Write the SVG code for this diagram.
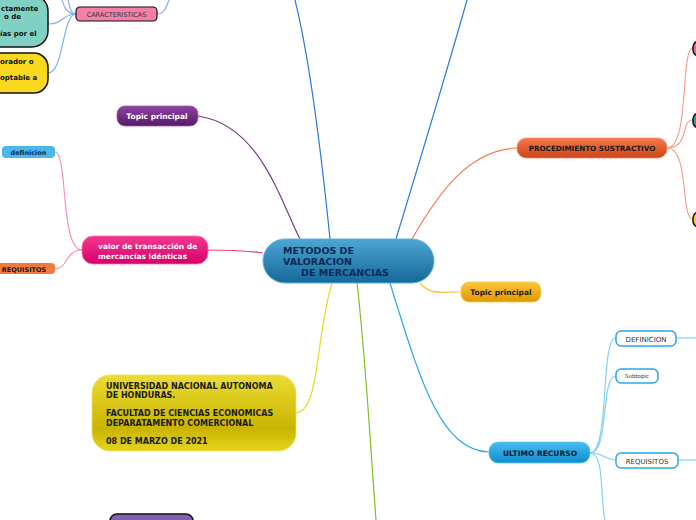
<svg xmlns="http://www.w3.org/2000/svg" width="696" height="520" viewBox="0 0 696 520">
<defs>
<linearGradient id="gCentral" x1="0" y1="0" x2="0" y2="1"><stop offset="0" stop-color="#4ea6d2"/><stop offset="1" stop-color="#14689a"/></linearGradient>
<linearGradient id="gPurple" x1="0" y1="0" x2="0" y2="1"><stop offset="0" stop-color="#8e44a0"/><stop offset="1" stop-color="#561a68"/></linearGradient>
<linearGradient id="gPink" x1="0" y1="0" x2="0" y2="1"><stop offset="0" stop-color="#f4388e"/><stop offset="1" stop-color="#d4006a"/></linearGradient>
<linearGradient id="gOrange" x1="0" y1="0" x2="0" y2="1"><stop offset="0" stop-color="#f47a4c"/><stop offset="1" stop-color="#cc4418"/></linearGradient>
<linearGradient id="gGold" x1="0" y1="0" x2="0" y2="1"><stop offset="0" stop-color="#fcc63c"/><stop offset="1" stop-color="#de9800"/></linearGradient>
<linearGradient id="gBlue" x1="0" y1="0" x2="0" y2="1"><stop offset="0" stop-color="#48bcf0"/><stop offset="1" stop-color="#0e8cce"/></linearGradient>
<linearGradient id="gYellow" x1="0" y1="0" x2="0" y2="1"><stop offset="0" stop-color="#ecdc34"/><stop offset="0.7" stop-color="#c8b400"/><stop offset="1" stop-color="#e4d420"/></linearGradient>
</defs>
<style>
.t{font-family:"DejaVu Sans",Verdana,sans-serif;font-weight:bold;}
.n{font-family:"DejaVu Sans",Verdana,sans-serif;}
.c{fill:none;stroke-width:1.2;}
</style>
<g id="connectors">
<path class="c" d="M330,239 C322,160 310,60 295,0" stroke="#2a7ae0" stroke-width="1.6"/>
<path class="c" d="M396,239 C420,160 450,60 467,0" stroke="#2a7ae0" stroke-width="1.6"/>
<path class="c" d="M300,239 C280,200 260,125 198,116" stroke="#7a3a8a"/>
<path class="c" d="M263,253 C240,250 225,250 208,250" stroke="#f03c80" stroke-width="1.5"/>
<path class="c" d="M412,239 C440,190 470,150 517,148" stroke="#f47a50"/>
<path class="c" d="M420,283 C430,295 440,292 461,292" stroke="#f8c43c"/>
<path class="c" d="M390,283 C420,380 440,450 489,452" stroke="#20aaea"/>
<path class="c" d="M332,283 C315,340 320,410 296,413" stroke="#e8d828"/>
<path class="c" d="M357,283 C365,350 370,440 376,520" stroke="#80c020" stroke-width="1.5"/>
<path class="c" d="M82,250 C60,250 68,152 55,152" stroke="#f890b8" stroke-width="1"/>
<path class="c" d="M82,250 C65,250 68,269 55,269" stroke="#f890b8" stroke-width="1"/>
<path class="c" d="M667,148 C690,148 680,48 693,48" stroke="#f8a088" stroke-width="1"/>
<path class="c" d="M667,148 C690,148 680,120 693,120" stroke="#f8a088" stroke-width="1"/>
<path class="c" d="M667,148 C690,148 680,219 693,219" stroke="#f8a088" stroke-width="1"/>
<path class="c" d="M590,453 C610,453 600,338 616,338" stroke="#80d0f4" stroke-width="1"/>
<path class="c" d="M590,453 C610,453 600,376 616,376" stroke="#80d0f4" stroke-width="1"/>
<path class="c" d="M590,453 C605,453 605,460 616,460" stroke="#80d0f4" stroke-width="1"/>
<path class="c" d="M590,453 C605,453 600,500 605,520" stroke="#80d0f4" stroke-width="1"/>
<path class="c" d="M676,338 L696,338" stroke="#80d0f4" stroke-width="1"/>
<path class="c" d="M678,460 L696,460" stroke="#80d0f4" stroke-width="1"/>
<path class="c" d="M76,14 C62,14 64,24 48,24" stroke="#80b0f0" stroke-width="1"/>
<path class="c" d="M76,14 C62,14 64,73 48,73" stroke="#80b0f0" stroke-width="1"/>
<path class="c" d="M76,14 C66,14 64,6 62,0" stroke="#80b0f0" stroke-width="1"/>
<path class="c" d="M76,14 C70,14 70,6 68,0" stroke="#80b0f0" stroke-width="1"/>
<path class="c" d="M157,14 C164,14 166,8 169,0" stroke="#80b0f0" stroke-width="1"/>
</g>
<g id="central">
<rect x="263" y="239" width="171" height="44" rx="22" fill="url(#gCentral)" stroke="#5ab0dc" stroke-width="1"/>
<text class="t" font-size="9.5" fill="#0d2a55"><tspan x="283" y="254">METODOS DE</tspan><tspan x="283" y="265">VALORACION</tspan><tspan x="301" y="276">DE MERCANCIAS</tspan></text>
</g>
<g id="topic-purple">
<rect x="117" y="106" width="81" height="20" rx="8" fill="url(#gPurple)" stroke="#9a58aa" stroke-width="0.8"/>
<text class="t" font-size="7.5" fill="#fff" x="157" y="119" text-anchor="middle">Topic principal</text>
</g>
<g id="valor">
<rect x="82" y="236" width="126" height="28" rx="11" fill="url(#gPink)" stroke="#f870a8" stroke-width="0.8"/>
<text class="t" font-size="7.5" fill="#fff"><tspan x="98" y="249">valor de transacción de</tspan><tspan x="98" y="259">mercancías idénticas</tspan></text>
</g>
<g id="definicion-left">
<rect x="2" y="146" width="53" height="12" rx="4" fill="#4ab8ea"/>
<text class="t" font-size="6.5" fill="#0d2a55" x="28.5" y="155" text-anchor="middle">definicion</text>
</g>
<g id="requisitos-left">
<rect x="-6" y="263" width="61" height="11" rx="4" fill="#f07a3c"/>
<text class="t" font-size="6.5" fill="#1a1a1a" x="24" y="271.5" text-anchor="middle">REQUISITOS</text>
</g>
<g id="caracteristicas">
<rect x="76" y="7" width="81" height="14" rx="4" fill="#f480aa" stroke="#111" stroke-width="1.2"/>
<text class="n" font-size="6.5" fill="#333" x="116.5" y="16.5" text-anchor="middle">CARACTERISTICAS</text>
</g>
<g id="teal-node">
<rect x="-30" y="-5" width="78" height="52" rx="16" fill="#80d0c4" stroke="#111" stroke-width="1.5"/>
<text class="t" font-size="7" fill="#111"><tspan x="1" y="11">ctamente</tspan><tspan x="4" y="19">o de</tspan><tspan x="0" y="36">ías por el</tspan></text>
</g>
<g id="yellow-node">
<rect x="-30" y="53" width="78" height="40" rx="14" fill="#fad81e" stroke="#111" stroke-width="1.5"/>
<text class="t" font-size="7" fill="#111"><tspan x="0" y="64">orador o</tspan><tspan x="0" y="80">optable a</tspan></text>
</g>
<g id="procedimiento">
<rect x="517" y="138" width="150" height="20" rx="9" fill="url(#gOrange)" stroke="#f49070" stroke-width="0.8"/>
<text class="t" font-size="7.2" fill="#1a1a1a" x="592" y="151" text-anchor="middle">PROCEDIMIENTO SUSTRACTIVO</text>
</g>
<g id="right-pink">
<rect x="693" y="41" width="20" height="15" rx="6" fill="#e0709a" stroke="#111" stroke-width="1.5"/>
</g>
<g id="right-teal">
<rect x="693" y="113" width="20" height="15" rx="6" fill="#2aa098" stroke="#111" stroke-width="1.5"/>
</g>
<g id="right-yellow">
<rect x="693" y="212" width="20" height="15" rx="6" fill="#f0d020" stroke="#111" stroke-width="1.5"/>
</g>
<g id="topic-gold">
<rect x="461" y="282" width="80" height="20" rx="8" fill="url(#gGold)" stroke="#f8cc50" stroke-width="0.8"/>
<text class="t" font-size="7.5" fill="#1a1a1a" x="501" y="295" text-anchor="middle">Topic principal</text>
</g>
<g id="ultimo">
<rect x="489" y="442" width="101" height="21" rx="9" fill="url(#gBlue)" stroke="#60c8f4" stroke-width="0.8"/>
<text class="t" font-size="7.5" fill="#0d1a2a" x="540" y="455.5" text-anchor="middle">ULTIMO RECURSO</text>
</g>
<g id="definicion-right">
<rect x="616" y="331" width="60" height="15" rx="5" fill="#fff" stroke="#2aa8ea" stroke-width="1.5"/>
<text class="n" font-size="7" fill="#333" x="646" y="341.5" text-anchor="middle">DEFINICION</text>
</g>
<g id="subtopic">
<rect x="616" y="369" width="42" height="14" rx="5" fill="#fff" stroke="#2aa8ea" stroke-width="1.5"/>
<text class="n" font-size="5.5" fill="#333" x="637" y="378" text-anchor="middle">Subtopic</text>
</g>
<g id="requisitos-right">
<rect x="616" y="453" width="62" height="15" rx="5" fill="#fff" stroke="#2aa8ea" stroke-width="1.5"/>
<text class="n" font-size="7" fill="#333" x="647" y="463.5" text-anchor="middle">REQUISITOS</text>
</g>
<g id="universidad">
<rect x="92" y="375" width="204" height="76" rx="18" fill="url(#gYellow)" stroke="#eee060" stroke-width="0.8"/>
<text class="t" font-size="8" fill="#1a1a1a"><tspan x="106" y="389">UNIVERSIDAD NACIONAL AUTONOMA</tspan><tspan x="106" y="398">DE HONDURAS.</tspan><tspan x="106" y="416">FACULTAD DE CIENCIAS ECONOMICAS</tspan><tspan x="106" y="426">DEPARATAMENTO COMERCIONAL</tspan><tspan x="106" y="444">08 DE MARZO DE 2021</tspan></text>
</g>
<g id="purple-bottom">
<rect x="110" y="514" width="83" height="20" rx="7" fill="#8060b0" stroke="#111" stroke-width="1.5"/>
</g>
</svg>
